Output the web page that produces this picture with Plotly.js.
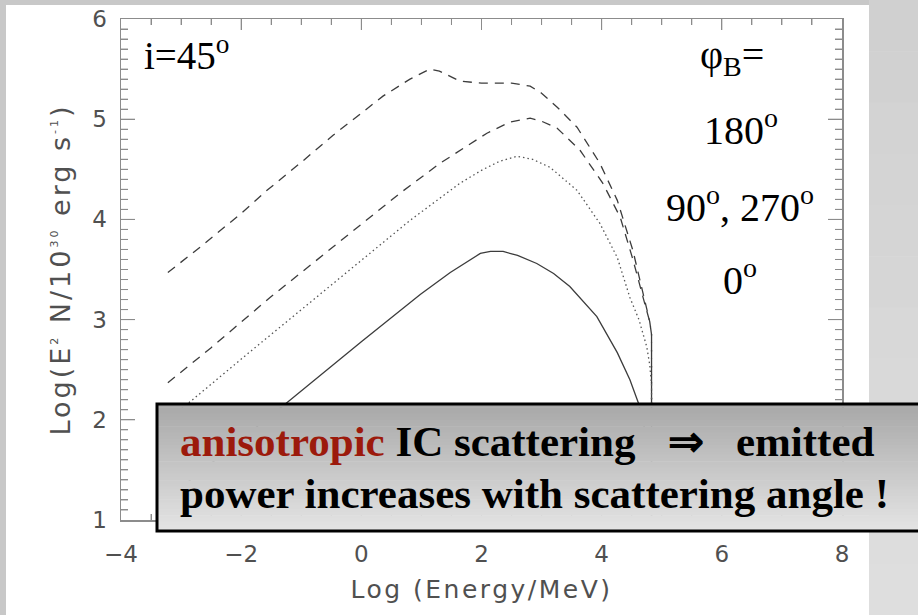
<!DOCTYPE html>
<html><head><meta charset="utf-8">
<script src="https://cdn.plot.ly/plotly-3.0.1.min.js"></script>
<style>
html,body{margin:0;padding:0;background:#c8c8c8;}
.xtitle{letter-spacing:2.5px}
.ytitle{letter-spacing:3px}
</style></head>
<body><div id="chart" style="width:918px;height:615px"></div>
<script>
// ---- data ----
const names = ['φB = 180°', 'φB = 90°', 'φB = 270°', 'φB = 0°'];

const x180 = [-3.22, -2.69, -2.0, -1.57, -1.0, -0.47, 0.0, 0.36, 0.81, 1.0, 1.14, 1.3, 1.5, 1.64, 2.0, 2.5, 2.81, 3.0, 3.26, 3.59, 3.97, 4.26, 4.52, 4.69, 4.80, 4.83, 4.83];
const y180 = [3.47, 3.72, 4.06, 4.29, 4.57, 4.84, 5.06, 5.23, 5.40, 5.46, 5.50, 5.48, 5.42, 5.38, 5.36, 5.36, 5.33, 5.26, 5.12, 4.92, 4.56, 4.19, 3.69, 3.25, 2.98, 2.85, 1.0];

const x90 = [-3.22, -2.5, -1.52, -0.19, 0.64, 1.31, 2.09, 2.47, 2.81, 3.0, 3.26, 3.64, 4.02, 4.31, 4.52, 4.69, 4.80, 4.83, 4.83];
const y90 = [2.37, 2.72, 3.22, 3.86, 4.26, 4.56, 4.86, 4.97, 5.01, 4.98, 4.91, 4.69, 4.36, 4.02, 3.60, 3.22, 2.98, 2.85, 1.0];

const x270 = [-3.22, -2.85, -1.85, -0.5, 0.81, 1.64, 2.0, 2.3, 2.59, 2.85, 3.14, 3.59, 3.97, 4.26, 4.47, 4.62, 4.75, 4.80, 4.83, 4.83];
const y270 = [2.0, 2.18, 2.68, 3.34, 3.99, 4.36, 4.49, 4.58, 4.63, 4.60, 4.52, 4.29, 3.96, 3.62, 3.22, 3.0, 2.73, 2.55, 2.35, 1.0];

const x0 = [-3.22, -2.0, -1.24, 0.0, 0.98, 1.48, 1.98, 2.15, 2.36, 2.6, 2.92, 3.2, 3.47, 3.92, 4.26, 4.47, 4.61, 4.72, 4.80];
const y0 = [1.22, 1.80, 2.17, 2.78, 3.25, 3.47, 3.66, 3.68, 3.68, 3.64, 3.56, 3.46, 3.33, 3.03, 2.67, 2.40, 2.17, 1.90, 1.60];

const xRange = [-4, 8];
const yRange = [1, 6];

// ---- layout helpers ----
const W = 918, H = 615, L = 121, R = 76, T = 19, B = 95;
const pw = W - L - R, ph = H - T - B;
const px = v => (v - L) / pw;
const py = v => (H - B - v) / ph;

const lineCol = '#3c3c3c';
const traces = [
  {x: x180, y: y180, name: names[0], mode: 'lines', line: {color: lineCol, width: 1.3, dash: '9px,7px'}},
  {x: x90, y: y90, name: names[1], mode: 'lines', line: {color: lineCol, width: 1.3, dash: '9px,7px'}},
  {x: x270, y: y270, name: names[2], mode: 'lines', line: {color: '#555', width: 1.3, dash: '1.5px,3px'}},
  {x: x0, y: y0, name: names[3], mode: 'lines', line: {color: lineCol, width: 1.3}}
];

const axCol = '#8c8c8c';
const shapes = [];
const grayBg = '#c8c8c8';
// outer gray bands (left, top) around the white panel
shapes.push({type: 'rect', xref: 'paper', yref: 'paper', layer: 'below',
  x0: px(0), x1: px(6), y0: py(615), y1: py(0), fillcolor: grayBg, line: {width: 0}});
shapes.push({type: 'rect', xref: 'paper', yref: 'paper', layer: 'below',
  x0: px(0), x1: px(869), y0: py(5), y1: py(0), fillcolor: grayBg, line: {width: 0}});
// right gray strip (light gradient)
const NS = 12;
for (let i = 0; i < NS; i++) {
  const y0p = i * H / NS, y1p = (i + 1) * H / NS;
  const c = Math.round(208 + (222 - 208) * i / (NS - 1));
  shapes.push({type: 'rect', xref: 'paper', yref: 'paper', layer: 'below',
    x0: px(869), x1: px(918), y0: py(y1p + 0.5), y1: py(y0p),
    fillcolor: `rgb(${c},${c},${c})`, line: {width: 0}});
}
// inside tick marks on all four sides (major + minor), drawn along the axes
const tickLine = {color: axCol, width: 1};
for (let k = 1; k < 24; k++) {            // x: every 0.5, major every 2
  const v = xRange[0] + 0.5 * k;
  const len = (k % 4 === 0 ? 11 : 6) / ph;
  shapes.push({type: 'line', xref: 'x', yref: 'paper', layer: 'above', x0: v, x1: v, y0: 0, y1: len, line: tickLine});
  shapes.push({type: 'line', xref: 'x', yref: 'paper', layer: 'above', x0: v, x1: v, y0: 1, y1: 1 - len, line: tickLine});
}
for (let k = 1; k < 50; k++) {            // y: every 0.1, major every 1
  const v = yRange[0] + 0.1 * k;
  const len = (k % 10 === 0 ? 14 : 7) / pw;
  shapes.push({type: 'line', xref: 'paper', yref: 'y', layer: 'above', x0: 0, x1: len, y0: v, y1: v, line: tickLine});
  shapes.push({type: 'line', xref: 'paper', yref: 'y', layer: 'above', x0: 1, x1: 1 - len, y0: v, y1: v, line: tickLine});
}
// gradient text box
const bx0 = 157, bx1 = 930, by0 = 404, by1 = 531, NB = 40;
for (let i = 0; i < NB; i++) {
  const t0 = by0 + (by1 - by0) * i / NB, t1 = by0 + (by1 - by0) * (i + 1) / NB + 0.6;
  const c = Math.round(168 + (228 - 168) * i / (NB - 1));
  shapes.push({type: 'rect', xref: 'paper', yref: 'paper', layer: 'above',
    x0: px(bx0), x1: px(bx1), y0: py(t1), y1: py(t0),
    fillcolor: `rgb(${c},${c},${c})`, line: {width: 0}});
}
shapes.push({type: 'rect', xref: 'paper', yref: 'paper', layer: 'above',
  x0: px(bx0), x1: px(bx1), y0: py(by1), y1: py(by0),
  fillcolor: 'rgba(0,0,0,0)', line: {color: '#000', width: 3}});

const serif = 'Liberation Serif, Times New Roman, serif';
const ann = (x, y, text, anchor, size, bold) => ({
  x: px(x), y: py(y), xref: 'paper', yref: 'paper', text: text, showarrow: false,
  xanchor: anchor, yanchor: 'middle',
  font: {family: serif, size: size, color: '#000', weight: bold ? 'bold' : 'normal'}
});
const nb = '\u00a0';
const annotations = [
  ann(142, 53, 'i=45<sup>o</sup>', 'left', 39),
  ann(732, 57, 'φ<sub>B</sub>=', 'center', 40),
  ann(741, 128, '180<sup>o</sup>', 'center', 40),
  ann(740, 204, '90<sup>o</sup>, 270<sup>o</sup>', 'center', 40),
  ann(740, 277, '0<sup>o</sup>', 'center', 40),
  ann(178, 441, '<span style="color:#9c1a0c">anisotropic</span> IC scattering' + nb + nb + nb + '⇒' + nb + nb + nb + 'emitted', 'left', 43, true),
  ann(178, 493, 'power increases with scattering angle !', 'left', 43, true)
];

const tickFont = {family: 'DejaVu Sans, sans-serif', size: 23, color: '#505050'};
const layout = {
  width: W, height: H,
  margin: {l: L, r: R, t: T, b: B, pad: 0},
  paper_bgcolor: '#ffffff', plot_bgcolor: '#ffffff',
  showlegend: false,
  xaxis: {
    range: xRange, tickmode: 'linear', tick0: -4, dtick: 2, ticks: 'inside', ticklen: 11, tickwidth: 1, tickcolor: axCol,
    showline: true, linecolor: axCol, linewidth: 1.5, mirror: 'allticks', showgrid: false, zeroline: false,
    minor: {dtick: 0.5, ticks: 'inside', ticklen: 6, tickwidth: 1, tickcolor: axCol, showgrid: false},
    tickfont: tickFont, ticklabelstandoff: 13,
    title: {text: 'Log (Energy/MeV)', font: {family: 'DejaVu Sans, sans-serif', size: 25, color: '#505050'}, standoff: 14}
  },
  yaxis: {
    range: yRange, tickmode: 'linear', tick0: 1, dtick: 1, ticks: 'inside', ticklen: 14, tickwidth: 1, tickcolor: axCol,
    showline: true, linecolor: axCol, linewidth: 1.5, mirror: 'allticks', showgrid: false, zeroline: false,
    minor: {dtick: 0.1, ticks: 'inside', ticklen: 7, tickwidth: 1, tickcolor: axCol, showgrid: false},
    tickfont: tickFont, ticklabelstandoff: 8,
    title: {text: 'Log(E<sup><span style="font-size:11px">2</span></sup> N/10<sup><span style="font-size:11px">30</span></sup> erg s<sup><span style="font-size:11px">-1</span></sup>)',
      font: {family: 'DejaVu Sans, sans-serif', size: 27, color: '#505050'}, standoff: 14}
  },
  shapes: shapes,
  annotations: annotations
};

Plotly.newPlot('chart', traces, layout, {displayModeBar: false, staticPlot: true});
</script>
</body></html>
